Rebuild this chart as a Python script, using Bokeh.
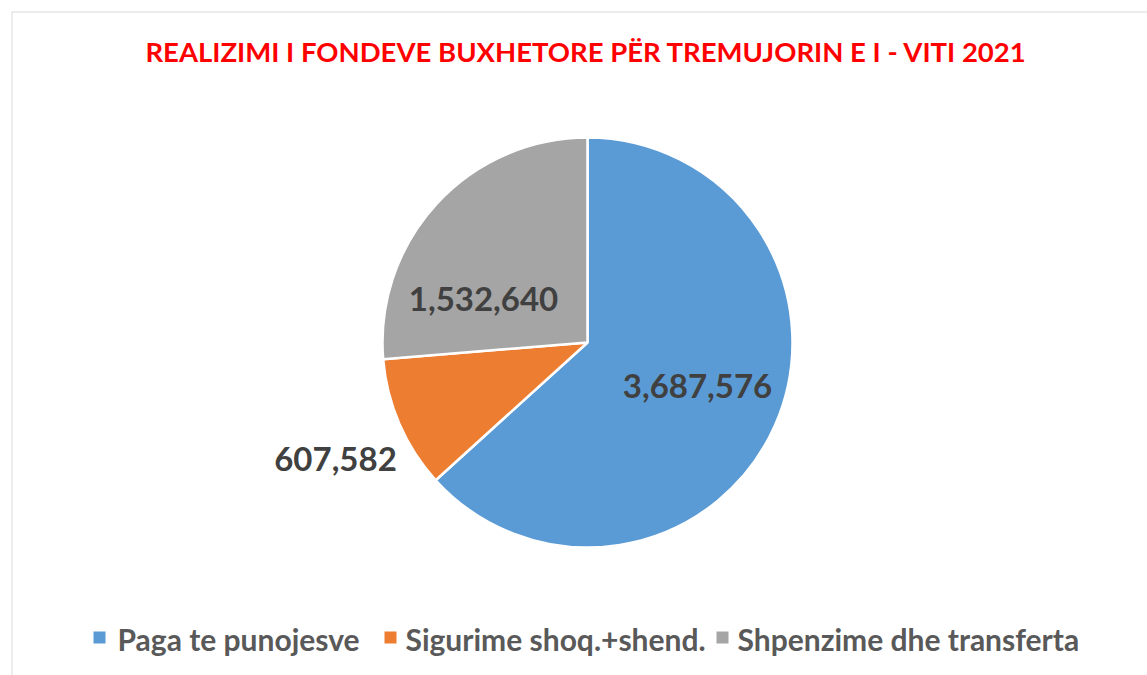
import numpy as np
from bokeh.plotting import figure
from bokeh.models import Range1d, Span
from bokeh.core.properties import value
from bokeh.embed import file_html
from bokeh.resources import INLINE

title_text = "REALIZIMI I FONDEVE BUXHETORE PËR TREMUJORIN E I - VITI 2021"
categories = ["Paga te punojesve", "Sigurime shoq.+shend.", "Shpenzime dhe transferta"]
values = [3687576, 607582, 1532640]
labels = ["3,687,576", "607,582", "1,532,640"]
colors = ["#5B9BD5", "#ED7D31", "#A5A5A5"]

W, H = 1147, 675
p = figure(width=W, height=H, x_range=Range1d(11, W), y_range=Range1d(0, H - 11),
           min_border_left=11, min_border_top=11, min_border_right=0, min_border_bottom=0,
           toolbar_location=None, output_backend="svg",
           x_axis_location=None, y_axis_location=None)
p.grid.visible = False
p.outline_line_color = None
p.background_fill_color = "white"
p.border_fill_color = "white"

# chart-area border (left and top edges visible in the window)
p.add_layout(Span(location=11, dimension="height", line_color="#D9D9D9", line_width=2))
p.add_layout(Span(location=H - 11, dimension="width", line_color="#D9D9D9", line_width=2))

def Y(py):
    return H - py

# pie
cx, cy, r = 587, Y(342), 205
vals = np.array(values, dtype=float)
frac = vals / vals.sum()
cum = np.concatenate([[0], np.cumsum(frac)])
starts = np.pi / 2 - cum[1:] * 2 * np.pi
ends = np.pi / 2 - cum[:-1] * 2 * np.pi
p.wedge(x=[cx] * 3, y=[cy] * 3, radius=r, start_angle=list(starts), end_angle=list(ends),
        fill_color=colors, line_color="white", line_width=2.5)

# data labels
lab_pos = [(697, 385), (335, 458), (483, 298)]
p.text(x=[q[0] for q in lab_pos], y=[Y(q[1]) for q in lab_pos], text=labels,
       text_font=value("Lato"), text_font_style="bold", text_font_size="33px",
       text_color="#404040", text_align="center", text_baseline="middle")

# title
p.text(x=[586], y=[Y(51)], text=[title_text], text_font=value("Lato"),
       text_font_style="bold", text_font_size="27.5px", text_color="#FF0000",
       text_align="center", text_baseline="middle")

# legend
sq_x = [99, 390, 722]
tx_x = [117, 405, 737]
ly = 638
p.scatter(x=sq_x, y=[Y(637)] * 3, marker="square", size=12, fill_color=colors, line_color=None)
p.text(x=tx_x, y=[Y(ly)] * 3, text=categories, text_font=value("Lato"),
       text_font_style="bold", text_font_size="30px", text_color="#595959",
       text_align="left", text_baseline="middle")

open("out.html", "w").write(file_html(p, INLINE))
